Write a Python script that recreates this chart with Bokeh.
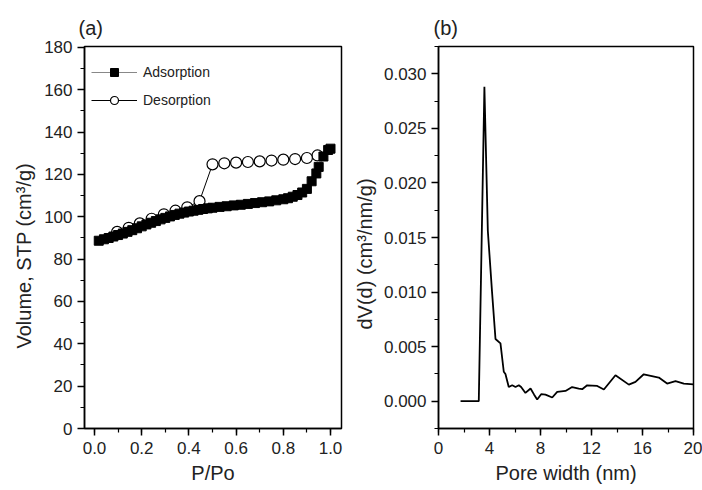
from bokeh.plotting import figure
from bokeh.layouts import row
from bokeh.models import (Range1d, SingleIntervalTicker, NumeralTickFormatter, Legend,
                          LegendItem, Title)
from bokeh.embed import file_html
from bokeh.resources import INLINE

# ---------------- data ----------------
ads_p = [0.018, 0.04, 0.06, 0.08, 0.10, 0.12, 0.14, 0.16, 0.18, 0.20, 0.22, 0.24, 0.26,
         0.28, 0.30, 0.32, 0.34, 0.36, 0.38, 0.40, 0.42, 0.44, 0.46, 0.48, 0.50, 0.53,
         0.56, 0.59, 0.62, 0.65, 0.68, 0.71, 0.74, 0.77, 0.80, 0.82, 0.84, 0.86, 0.88,
         0.90, 0.92, 0.94, 0.95, 0.97, 0.99, 1.00]
ads_v = [88.7, 89.4, 90.0, 90.7, 91.4, 92.1, 92.9, 93.7, 94.6, 95.5, 96.4, 97.2, 98.0,
         98.8, 99.5, 100.2, 100.9, 101.5, 102.0, 102.5, 102.9, 103.3, 103.7, 104.0, 104.3,
         104.7, 105.0, 105.4, 105.7, 106.1, 106.5, 106.9, 107.3, 107.8, 108.3, 108.8,
         109.5, 110.3, 111.5, 113.2, 116.8, 120.5, 123.6, 128.5, 131.6, 132.2]

des_p = [0.945, 0.90, 0.85, 0.80, 0.75, 0.70, 0.65, 0.60, 0.55, 0.50, 0.445, 0.393,
         0.343, 0.294, 0.242, 0.192, 0.145, 0.096]
des_v = [129.0, 127.8, 127.3, 127.0, 126.6, 126.2, 125.9, 125.6, 125.3, 124.8, 107.4,
         104.5, 102.9, 101.2, 99.1, 96.9, 94.8, 92.9]

pore_w = [1.73, 3.16, 3.6, 3.87, 4.2, 4.47, 4.86, 5.12, 5.25, 5.51, 5.78, 6.04, 6.3, 6.48,
          6.82, 7.22, 7.5, 7.74, 8.05, 8.39, 8.92, 9.31, 9.96, 10.48, 11.0, 11.27, 11.66,
          12.45, 12.97, 13.88, 14.93, 15.45, 16.1, 17.28, 17.93, 18.59, 19.24, 20.0]
dvd = [0.0, 0.0, 0.0288, 0.0156, 0.0100, 0.0057, 0.0053, 0.0027, 0.0025, 0.0013, 0.00146,
       0.0013, 0.00146, 0.0013, 0.00076, 0.00116, 0.0006, 0.00016, 0.00064, 0.0006,
       0.00034, 0.00085, 0.00094, 0.0013, 0.00116, 0.0011, 0.00146, 0.0014, 0.00107,
       0.00238, 0.00152, 0.00177, 0.00247, 0.00217, 0.00162, 0.00183, 0.00162, 0.00155]

FONT = "Liberation Sans"
TXT = "#222222"


def style(p):
    p.outline_line_color = "black"
    p.outline_line_width = 1.5
    p.xgrid.visible = False
    p.ygrid.visible = False
    for ax in (p.xaxis[0], p.yaxis[0]):
        ax.axis_line_width = 1.5
        ax.major_tick_line_width = 1.5
        ax.minor_tick_line_width = 1.2
        ax.major_tick_out = 7
        ax.major_tick_in = 0
        ax.minor_tick_out = 4
        ax.minor_tick_in = 0
        ax.major_label_text_font = FONT
        ax.major_label_text_font_size = "17px"
        ax.major_label_text_color = TXT
        ax.axis_label_text_font = FONT
        ax.axis_label_text_font_size = "20px"
        ax.axis_label_text_font_style = "normal"
        ax.axis_label_text_color = TXT
    p.xaxis[0].major_label_standoff = 6
    p.xaxis[0].axis_label_standoff = 5
    p.yaxis[0].major_label_standoff = 5
    p.title.text_font = FONT
    p.title.text_font_size = "20px"
    p.title.text_font_style = "normal"
    p.title.text_color = TXT
    p.title.align = "left"
    p.title.standoff = 16


def ylabel(p, text, size, offset, standoff, valign):
    t = Title(text=text, align="left", offset=offset, text_font=FONT,
              text_font_size=size, text_font_style="normal", text_color=TXT,
              standoff=standoff, vertical_align=valign)
    p.add_layout(t, "left")


# ---------------- panel (a) ----------------
pa = figure(width=351, height=490, output_backend="svg", toolbar_location=None,
            title="(a)",
            x_range=Range1d(-0.0424, 1.0466), y_range=Range1d(0, 180.47),
            min_border_left=84, min_border_right=10, min_border_top=46,
            min_border_bottom=61)
pa.xaxis.ticker = SingleIntervalTicker(interval=0.2, num_minor_ticks=2)
pa.yaxis.ticker = SingleIntervalTicker(interval=20, num_minor_ticks=2)
pa.xaxis.formatter = NumeralTickFormatter(format="0.0")
pa.xaxis.axis_label = "P/Po"
style(pa)
pa.title.offset = -6
ylabel(pa, "Volume, STP (cm³/g)", "20px", 80, 14, "bottom")

l_des = pa.line(des_p, des_v, line_color="black", line_width=1)
s_des = pa.scatter(des_p, des_v, marker="circle", size=11, fill_color="white",
                   line_color="black", line_width=1.2)
l_ads = pa.line(ads_p, ads_v, line_color="#888888", line_width=1)
s_ads = pa.scatter(ads_p, ads_v, marker="square", size=9, fill_color="black",
                   line_color="black")

leg = Legend(items=[LegendItem(label="Adsorption", renderers=[l_ads, s_ads]),
                    LegendItem(label="Desorption", renderers=[l_des, s_des])],
             location=(0, 311), border_line_alpha=0, background_fill_alpha=0,
             padding=7, margin=0, spacing=8, glyph_width=46, glyph_height=20,
             label_standoff=6, label_text_font=FONT, label_text_font_size="14px",
             label_text_color=TXT)
pa.add_layout(leg)

# ---------------- panel (b) ----------------
pb = figure(width=351, height=490, output_backend="svg", toolbar_location=None,
            title="(b)",
            x_range=Range1d(0, 20), y_range=Range1d(-0.0025, 0.0325),
            min_border_left=87, min_border_right=9, min_border_top=46,
            min_border_bottom=62)
pb.xaxis.ticker = SingleIntervalTicker(interval=4, num_minor_ticks=2)
pb.yaxis.ticker = SingleIntervalTicker(interval=0.005, num_minor_ticks=2)
pb.yaxis.formatter = NumeralTickFormatter(format="0.000")
pb.xaxis.axis_label = "Pore width (nm)"
style(pb)
pb.title.offset = -5
ylabel(pb, "dV(d) (cm³/nm/g)", "20px", 99, 5, "top")

pb.line(pore_w, dvd, line_color="black", line_width=1.8)

layout = row(pa, pb)
open("out.html", "w").write(file_html(layout, INLINE))
